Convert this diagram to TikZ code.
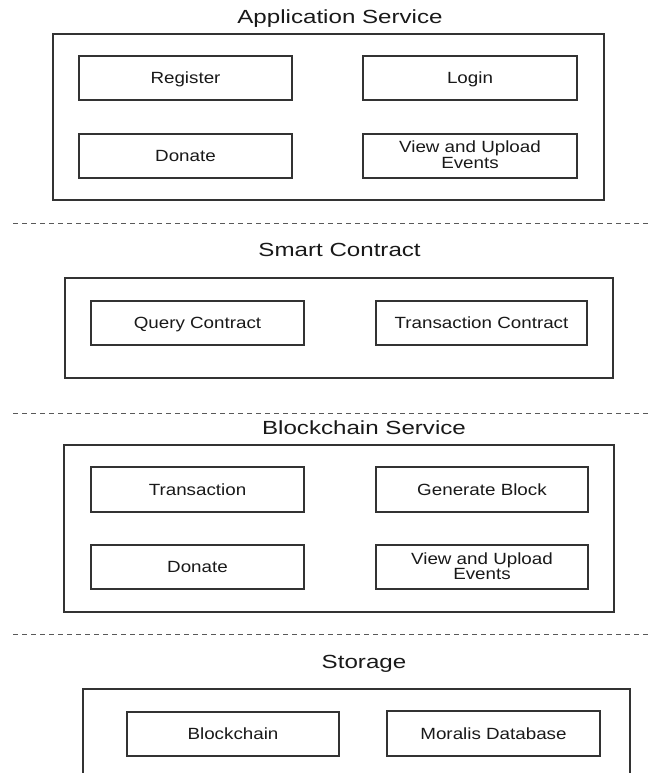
\documentclass[tikz,border=0pt]{standalone}
\usepackage{fontspec}
\setmainfont{Liberation Sans}
\newfontfamily\titlefont[FakeStretch=1.27]{Liberation Sans}
\newfontfamily\boxfont[FakeStretch=1.16]{Liberation Sans}
\begin{document}
\begin{tikzpicture}[x=1pt,y=-1pt,
  outerbox/.style={draw=black!80, line width=1.2pt, inner sep=0pt, outer sep=0pt},
  inbox/.style={draw=black!80, line width=1.3pt, inner sep=0pt, outer sep=0pt,
    font=\boxfont\fontsize{16.2}{18}\selectfont, text=black!90, text height=11.6pt, text depth=0pt},
  ttl/.style={anchor=base, inner sep=0pt, font=\titlefont\fontsize{19}{22}\selectfont, text=black!90},
  lbl/.style={anchor=base, inner sep=0pt, font=\boxfont\fontsize{16.2}{18}\selectfont, text=black!90},
  sep/.style={draw=black!65, line width=1pt, dash pattern=on 5pt off 4pt}]
\useasboundingbox (0,0) rectangle (651,773);
\fill[white] (0,0) rectangle (651,773);
\clip (0,0) rectangle (651,773);

% ---------- Application Service ----------
\node[ttl] (t1) at (340,23.5) {Application Service};
\node[outerbox, minimum width=551pt, minimum height=166pt] (app) at (328.5,117) {};
\node[inbox, minimum width=213pt, minimum height=44pt] (reg) at (185.5,78) {Register};
\node[inbox, minimum width=214pt, minimum height=44pt] (login) at (470,78) {Login};
\node[inbox, minimum width=213pt, minimum height=44pt] (don1) at (185.5,156) {Donate};
\node[inbox, minimum width=214pt, minimum height=44pt] (view1) at (470,156) {};
\node[lbl] (view1a) at (470,152.7) {View and Upload};
\node[lbl] (view1b) at (470,168.5) {Events};

\coordinate (d1a) at (13,223);
\coordinate (d1b) at (651,223);
\draw[sep] (d1a) -- (d1b);

% ---------- Smart Contract ----------
\node[ttl] (t2) at (339.6,256.7) {Smart Contract};
\node[outerbox, minimum width=548pt, minimum height=100pt] (sc) at (339,328) {};
\node[inbox, minimum width=213pt, minimum height=44pt] (query) at (197.5,323) {Query Contract};
\node[inbox, minimum width=211pt, minimum height=44pt] (trc) at (481.5,323) {Transaction Contract};

\coordinate (d2a) at (13,413);
\coordinate (d2b) at (651,413);
\draw[sep] (d2a) -- (d2b);

% ---------- Blockchain Service ----------
\node[ttl] (t3) at (364,434.3) {Blockchain Service};
\node[outerbox, minimum width=550pt, minimum height=167pt] (bcs) at (339,528.5) {};
\node[inbox, minimum width=213pt, minimum height=45pt] (tr) at (197.5,489.5) {Transaction};
\node[inbox, minimum width=212pt, minimum height=45pt] (gen) at (482,489.5) {Generate Block};
\node[inbox, minimum width=213pt, minimum height=44pt] (don3) at (197.5,567) {Donate};
\node[inbox, minimum width=212pt, minimum height=44pt] (view3) at (482,567) {};
\node[lbl] (view3a) at (482,564) {View and Upload};
\node[lbl] (view3b) at (482,579.7) {Events};

\coordinate (d3a) at (13,634);
\coordinate (d3b) at (651,634);
\draw[sep] (d3a) -- (d3b);

% ---------- Storage ----------
\node[ttl] (t4) at (364,668.3) {Storage};
\coordinate (s1) at (83,800);
\coordinate (s2) at (83,689);
\coordinate (s3) at (630,689);
\coordinate (s4) at (630,800);
\draw[draw=black!80, line width=1.2pt] (s1) -- (s2) -- (s3) -- (s4);
\node[inbox, minimum width=212pt, minimum height=44pt] (chain) at (233,734) {Blockchain};
\node[inbox, minimum width=213pt, minimum height=45pt] (moralis) at (493.5,733.5) {Moralis Database};
\end{tikzpicture}
\end{document}
